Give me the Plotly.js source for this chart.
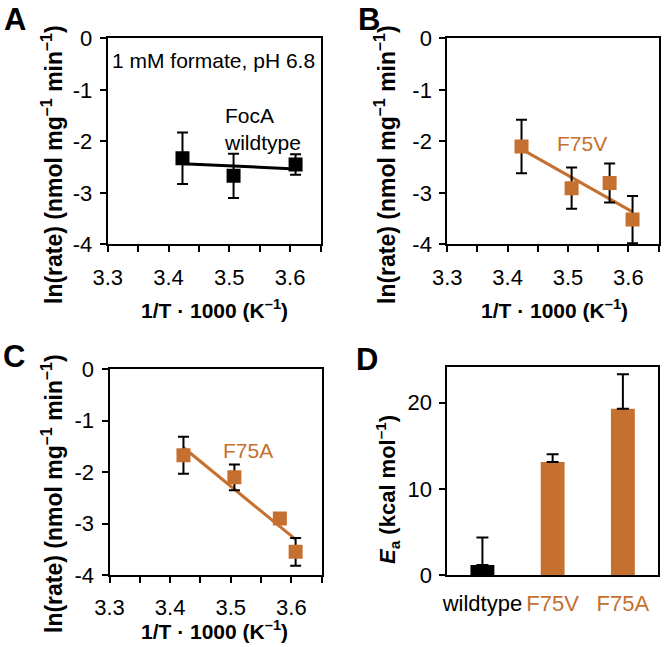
<!DOCTYPE html>
<html>
<head>
<meta charset="utf-8">
<script src="https://cdn.plot.ly/plotly-3.0.1.min.js"></script>
<style>
  html, body { margin: 0; padding: 0; background: #fff; }
  #chart { width: 664px; height: 647px; }
</style>
</head>
<body>
<div id="chart"></div>
<script>
// panel A: wildtype
var xWT = [3.423, 3.507, 3.609];
var yWT = [-2.33, -2.67, -2.45];
var errWT = [0.50, 0.43, 0.20];
// panel B: F75V
var xV = [3.423, 3.506, 3.569, 3.607];
var yV = [-2.10, -2.91, -2.81, -3.52];
var errV = [0.52, 0.40, 0.38, 0.46];
// panel C: F75A
var xA = [3.422, 3.506, 3.581, 3.607];
var yA = [-1.67, -2.10, -2.90, -3.55];
var errA = [0.36, 0.25, 0.05, 0.27];
// panel D: activation energies
var variants = ["wildtype", "F75V", "F75A"];
var eaValues = [1.15, 13.1, 19.3];
var eaErr = [3.2, 0.9, 4.0];

var yTickVals = [0, -1, -2, -3, -4];
var yTickText = ["0", "-1", "-2", "-3", "-4"];

var fontFam = "Liberation Sans, Arial, sans-serif";
var orange = "#C5702F";

// least squares trendline, drawn between first and last point
function fitLine(xs, ys) {
    var n = xs.length, mx = 0, my = 0;
    for (var i = 0; i < n; i++) { mx += xs[i]; my += ys[i]; }
    mx /= n; my /= n;
    var sxx = 0, sxy = 0;
    for (var j = 0; j < n; j++) {
        sxx += (xs[j] - mx) * (xs[j] - mx);
        sxy += (xs[j] - mx) * (ys[j] - my);
    }
    var slope = sxy / sxx;
    var x0 = xs[0], x1 = xs[n - 1];
    return { x: [x0, x1], y: [my + slope * (x0 - mx), my + slope * (x1 - mx)] };
}

function arrhenius(xs, ys, errs, color, n) {
    var fit = fitLine(xs, ys);
    var ax = n === 1 ? "" : String(n);
    return [
        {
            type: "scatter", mode: "lines", x: fit.x, y: fit.y,
            xaxis: "x" + ax, yaxis: "y" + ax,
            line: { color: color, width: 3 }, hoverinfo: "skip"
        },
        {
            type: "scatter", mode: "markers", x: xs, y: ys,
            xaxis: "x" + ax, yaxis: "y" + ax,
            marker: { symbol: "square", size: 14, color: color },
            error_y: { type: "data", array: errs, visible: true, color: "black", thickness: 2, width: 5.5 }
        }
    ];
}

var data = []
    .concat(arrhenius(xWT, yWT, errWT, "black", 1))
    .concat(arrhenius(xV, yV, errV, orange, 2))
    .concat(arrhenius(xA, yA, errA, orange, 3));

data.push({
    type: "bar", x: variants, y: eaValues,
    xaxis: "x4", yaxis: "y4",
    marker: { color: ["black", orange, orange] },
    error_y: { type: "data", array: eaErr, arrayminus: [0, 0, 0], symmetric: false, visible: true, color: "black", thickness: 2, width: 6 }
});

var tickFont = { family: fontFam, size: 22, color: "black" };

function tempAxis(dom, anchor) {
    return {
        domain: dom, anchor: anchor, range: [3.3, 3.65],
        tick0: 3.3, dtick: 0.1, tickformat: ".1f",
        ticks: "outside", ticklen: 6, tickwidth: 2, tickcolor: "black",
        minor: { tick0: 3.3, dtick: 0.05, ticks: "outside", ticklen: 6, tickwidth: 2, tickcolor: "black" },
        showline: true, mirror: true, linecolor: "black", linewidth: 2,
        showgrid: false, zeroline: false, tickfont: tickFont, ticklabelstandoff: 6
    };
}

function lnAxis(dom, anchor) {
    return {
        domain: dom, anchor: anchor, range: [-4, 0],
        tickvals: yTickVals, ticktext: yTickText,
        ticks: "outside", ticklen: 6, tickwidth: 2, tickcolor: "black",
        showline: true, mirror: true, linecolor: "black", linewidth: 2,
        showgrid: false, zeroline: false, tickfont: tickFont, ticklabelstandoff: 3
    };
}

function px(x) { return x / 664; }
function py(y) { return 1 - y / 647; }

function note(text, x, y, opts) {
    var a = {
        text: text, xref: "paper", yref: "paper", x: px(x), y: py(y),
        showarrow: false, xanchor: "center", yanchor: "middle",
        font: { family: fontFam, size: 20, color: "black" }
    };
    for (var k in opts) { a[k] = opts[k]; }
    return a;
}

var yTitle = "<b>ln(rate) (nmol mg<sup>–1</sup> min<sup>–1</sup>)</b>";
var xTitle = "<b>1/T · 1000 (K<sup>–1</sup>)</b>";
var letterFont = { family: fontFam, size: 31, color: "black" };
var yTitleFont = { family: fontFam, size: 23, color: "black" };

var layout = {
    width: 664, height: 647,
    margin: { l: 0, r: 0, t: 0, b: 0 },
    paper_bgcolor: "white", plot_bgcolor: "white",
    showlegend: false, bargap: 0.66,
    font: { family: fontFam, color: "black" },
    xaxis: tempAxis([px(107.7), px(320.5)], "y"),
    yaxis: lnAxis([py(244.3), py(38.3)], "x"),
    xaxis2: tempAxis([px(447.3), px(658.5)], "y2"),
    yaxis2: lnAxis([py(244.3), py(38.3)], "x2"),
    xaxis3: tempAxis([px(109.5), px(321.7)], "y3"),
    yaxis3: lnAxis([py(575), py(369.3)], "x3"),
    xaxis4: {
        domain: [px(447.3), px(658)], anchor: "y4", range: [-0.5, 2.5],
        tickvals: variants,
        ticktext: ["wildtype", "<span style='color:" + orange + "'>F75V</span>", "<span style='color:" + orange + "'>F75A</span>"],
        ticks: "", showline: true, mirror: true, linecolor: "black", linewidth: 2,
        showgrid: false, tickfont: tickFont, ticklabelstandoff: 8
    },
    yaxis4: {
        domain: [py(575), py(367.3)], anchor: "x4", range: [0, 24.1],
        tickvals: [0, 10, 20],
        ticks: "outside", ticklen: 6, tickwidth: 2, tickcolor: "black",
        showline: true, mirror: true, linecolor: "black", linewidth: 2,
        showgrid: false, zeroline: false, tickfont: tickFont, ticklabelstandoff: 3
    },
    annotations: [
        note("<b>A</b>", 2, 0, { font: letterFont, xanchor: "left", yanchor: "top" }),
        note("<b>B</b>", 356, 0, { font: letterFont, xanchor: "left", yanchor: "top" }),
        note("<b>C</b>", 14, 356, { font: letterFont }),
        note("<b>D</b>", 367, 359, { font: letterFont }),
        note(yTitle, 52, 165, { textangle: -90, font: yTitleFont }),
        note(yTitle, 385, 165, { textangle: -90, font: yTitleFont }),
        note(yTitle, 52, 494, { textangle: -90, font: yTitleFont }),
        note("<b><i>E</i><sub>a</sub> (kcal mol<sup>–1</sup>)</b>", 387, 490, { textangle: -90, font: { family: fontFam, size: 22, color: "black" } }),
        note(xTitle, 214, 309, { font: { family: fontFam, size: 21, color: "black" } }),
        note(xTitle, 554, 309, { font: { family: fontFam, size: 21, color: "black" } }),
        note(xTitle, 215, 630, { font: { family: fontFam, size: 21, color: "black" } }),
        note("1 mM formate, pH 6.8", 213, 60, { font: { family: fontFam, size: 21, color: "black" } }),
        note("FocA<br>wildtype", 222, 129, { xanchor: "left", align: "left", font: { family: fontFam, size: 21, color: "black" } }),
        note("F75V", 582, 144, { font: { family: fontFam, size: 21, color: orange } }),
        note("F75A", 248, 450, { font: { family: fontFam, size: 21, color: orange } })
    ]
};

Plotly.newPlot("chart", data, layout, { staticPlot: true });
</script>
</body>
</html>
